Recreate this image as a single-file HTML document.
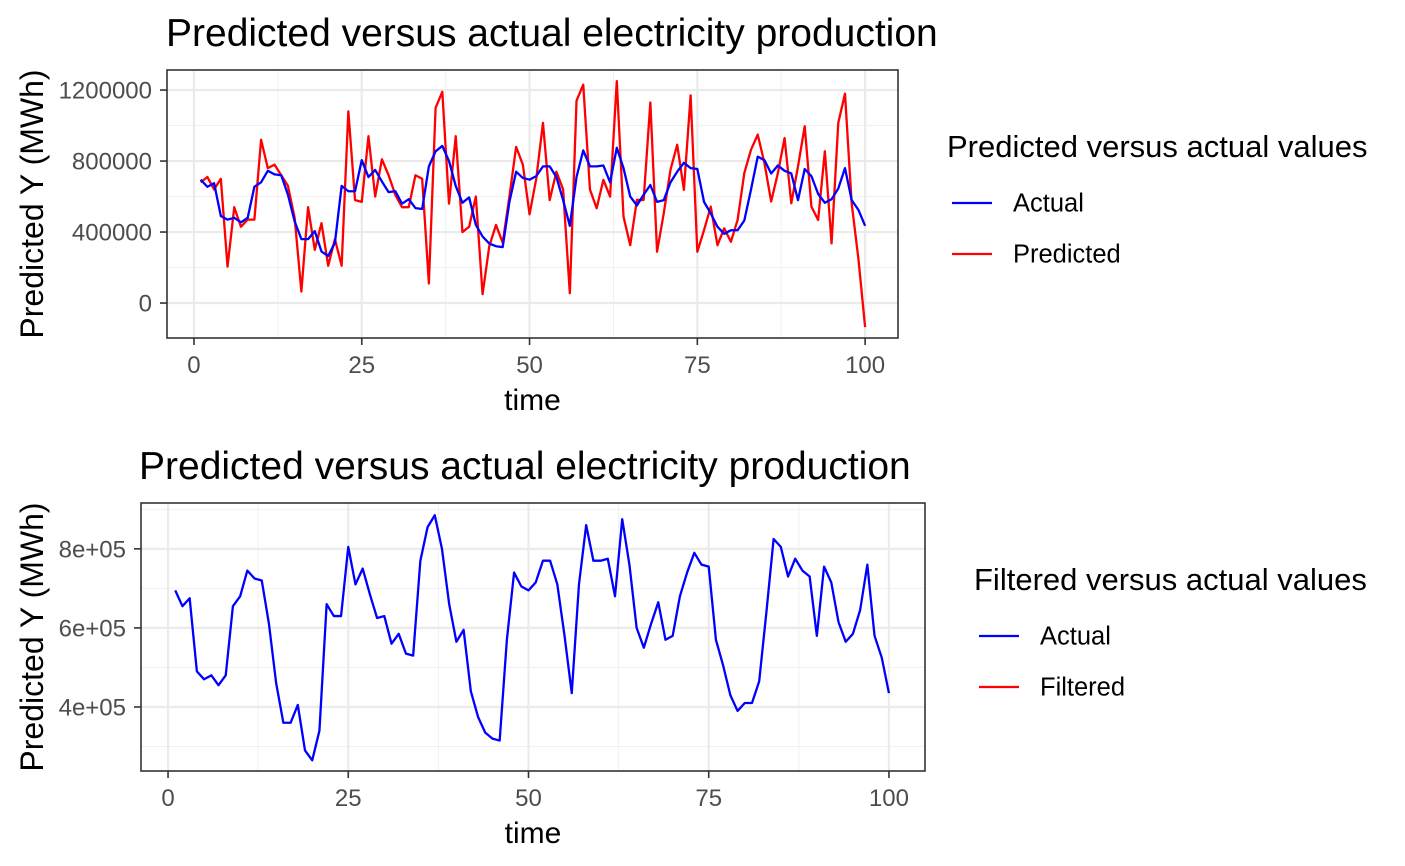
<!DOCTYPE html>
<html><head><meta charset="utf-8"><style>
html,body{margin:0;padding:0;background:#fff;}
svg{display:block;font-family:"Liberation Sans",Arial,sans-serif;}
</style></head><body>
<svg id="chart" width="1405" height="866" viewBox="0 0 1405 866" xmlns="http://www.w3.org/2000/svg"></svg>
<script>
const timeSteps = Array.from({length:100},(_,i)=>i+1);
const actualValues = [695000,655000,675000,490000,470000,480000,455000,480000,655000,680000,
745000,725000,720000,610000,460000,360000,360000,405000,290000,265000,
340000,660000,630000,630000,805000,710000,750000,685000,625000,630000,
560000,585000,535000,530000,770000,855000,885000,800000,660000,565000,
595000,440000,375000,335000,320000,315000,570000,740000,705000,695000,
715000,770000,770000,710000,580000,435000,710000,860000,770000,770000,
775000,680000,875000,760000,600000,550000,610000,665000,570000,580000,
680000,740000,790000,760000,755000,570000,505000,430000,390000,410000,
410000,465000,640000,825000,805000,730000,775000,745000,730000,580000,
755000,715000,615000,565000,585000,645000,760000,580000,525000,435000];
const predictedValues = [680000,710000,640000,700000,205000,540000,430000,470000,470000,920000,
760000,780000,720000,660000,480000,65000,540000,300000,450000,210000,
360000,210000,1080000,580000,570000,940000,600000,810000,720000,610000,
540000,540000,720000,700000,110000,1100000,1190000,560000,940000,400000,
430000,600000,50000,320000,440000,340000,600000,880000,780000,500000,
700000,1015000,580000,740000,640000,55000,1140000,1230000,640000,534000,
694000,600000,1250000,487000,326000,581000,581000,1130000,289000,506000,
751000,892000,638000,1170000,289000,411000,543000,326000,421000,345000,
468000,732000,864000,949000,789000,572000,732000,930000,562000,770000,
996000,543000,468000,855000,336000,1015000,1180000,560000,250000,-136000];
const xTicks = [0,25,50,75,100];
const topYTicks = [0,400000,800000,1200000];
const topYLabels = ["0","400000","800000","1200000"];
const botYTicks = [400000,600000,800000];
const botYLabels = ["4e+05","6e+05","8e+05"];

const NS="http://www.w3.org/2000/svg";
const svg=document.getElementById('chart');
function el(tag,attrs,parent,text){const e=document.createElementNS(NS,tag);for(const k in attrs)e.setAttribute(k,attrs[k]);if(text!==undefined)e.textContent=text;(parent||svg).appendChild(e);return e;}

function panel(cfg){
  const g=el('g',{});
  
  
  const {L,R,T,B,xmin,xmax,ymin,ymax}=cfg;
  const sx=v=>L+(v-xmin)/(xmax-xmin)*(R-L);
  const sy=v=>B-(v-ymin)/(ymax-ymin)*(B-T);
  el('rect',{x:L,y:T,width:R-L,height:B-T,fill:'#fff'},g);
  for(let i=0;i<xTicks.length-1;i++){const m=(xTicks[i]+xTicks[i+1])/2;el('line',{x1:sx(m),x2:sx(m),y1:T,y2:B,stroke:'#f0f0f0','stroke-width':1},g);}
  cfg.yMinor.forEach(m=>{const y=sy(m);if(y>T&&y<B)el('line',{x1:L,x2:R,y1:y,y2:y,stroke:'#f0f0f0','stroke-width':1},g);});
  xTicks.forEach(t=>el('line',{x1:sx(t),x2:sx(t),y1:T,y2:B,stroke:'#ebebeb','stroke-width':2.2},g));
  cfg.yTicks.forEach(t=>el('line',{x1:L,x2:R,y1:sy(t),y2:sy(t),stroke:'#ebebeb','stroke-width':2.2},g));
  cfg.series.forEach(s=>{
    const d=s.values.map((v,i)=>(i?'L':'M')+sx(timeSteps[i]).toFixed(2)+' '+sy(v).toFixed(2)).join(' ');
    const p=el('path',{d:d,fill:'none',stroke:s.color,'stroke-width':2.3,'stroke-linejoin':'round'},g);
    
    
  });
  el('rect',{x:L,y:T,width:R-L,height:B-T,fill:'none',stroke:'#333','stroke-width':1.6},g);
  xTicks.forEach(t=>{
    el('line',{x1:sx(t),x2:sx(t),y1:B,y2:B+7,stroke:'#333','stroke-width':1.6},g);
    const tx=el('text',{x:sx(t),y:B+35,'text-anchor':'middle','font-size':24,fill:'#4d4d4d'},g,String(t));
    
    
  });
  cfg.yTicks.forEach((t,i)=>{
    el('line',{x1:L-7,x2:L,y1:sy(t),y2:sy(t),stroke:'#333','stroke-width':1.6},g);
    const ty=el('text',{x:L-15,y:sy(t)+8.5,'text-anchor':'end','font-size':24,fill:'#4d4d4d'},g,cfg.yLabels[i]);
    
    
  });
  const tt=el('text',{x:cfg.titleX,y:cfg.titleY,'font-size':39,fill:'#000'},g,'Predicted versus actual electricity production');
  
  
  const xt=el('text',{x:(L+R)/2,y:B+72,'text-anchor':'middle','font-size':30,fill:'#000'},g,'time');
  
  
  const cy=(T+B)/2;
  const yt=el('text',{x:0,y:0,transform:`translate(43,${cy}) rotate(-90)`,'text-anchor':'middle','font-size':32,fill:'#000'},g,'Predicted Y (MWh)');
  
  
  const lg=el('g',{},g);
  
  
  el('text',{x:cfg.legX,y:cfg.legY,'font-size':31,fill:'#000'},lg,cfg.legTitle);
  cfg.legItems.forEach((it,i)=>{
    const y=cfg.legY+46+i*51;
    const e=el('g',{},lg);
    
    
    el('line',{x1:cfg.legX+5,x2:cfg.legX+45,y1:y,y2:y,stroke:it.color,'stroke-width':2.3},e);
    el('text',{x:cfg.legX+66,y:y+8.5,'font-size':25.5,fill:'#000'},e,it.label);
  });
}

panel({name:'top-panel',L:167,R:898,T:70,B:338,xmin:-4.02,xmax:104.9,ymin:-197000,ymax:1313000,
  yTicks:topYTicks,yLabels:topYLabels,yMinor:[-200000,200000,600000,1000000],
  series:[{name:'predicted-line',values:predictedValues,color:'#ff0000'},{name:'actual-line',values:actualValues,color:'#0000ff'}],
  titleX:166,titleY:46,legX:947,legY:157,legTitle:'Predicted versus actual values',
  legItems:[{label:'Actual',color:'#0000ff'},{label:'Predicted',color:'#ff0000'}]});

panel({name:'bottom-panel',L:141,R:925,T:503,B:771,xmin:-3.75,xmax:105,ymin:238000,ymax:916000,
  yTicks:botYTicks,yLabels:botYLabels,yMinor:[300000,500000,700000,900000],
  series:[{name:'actual-line',values:actualValues,color:'#0000ff'}],
  titleX:139,titleY:479,legX:974,legY:590,legTitle:'Filtered versus actual values',
  legItems:[{label:'Actual',color:'#0000ff'},{label:'Filtered',color:'#ff0000'}]});
</script>
</body></html>
